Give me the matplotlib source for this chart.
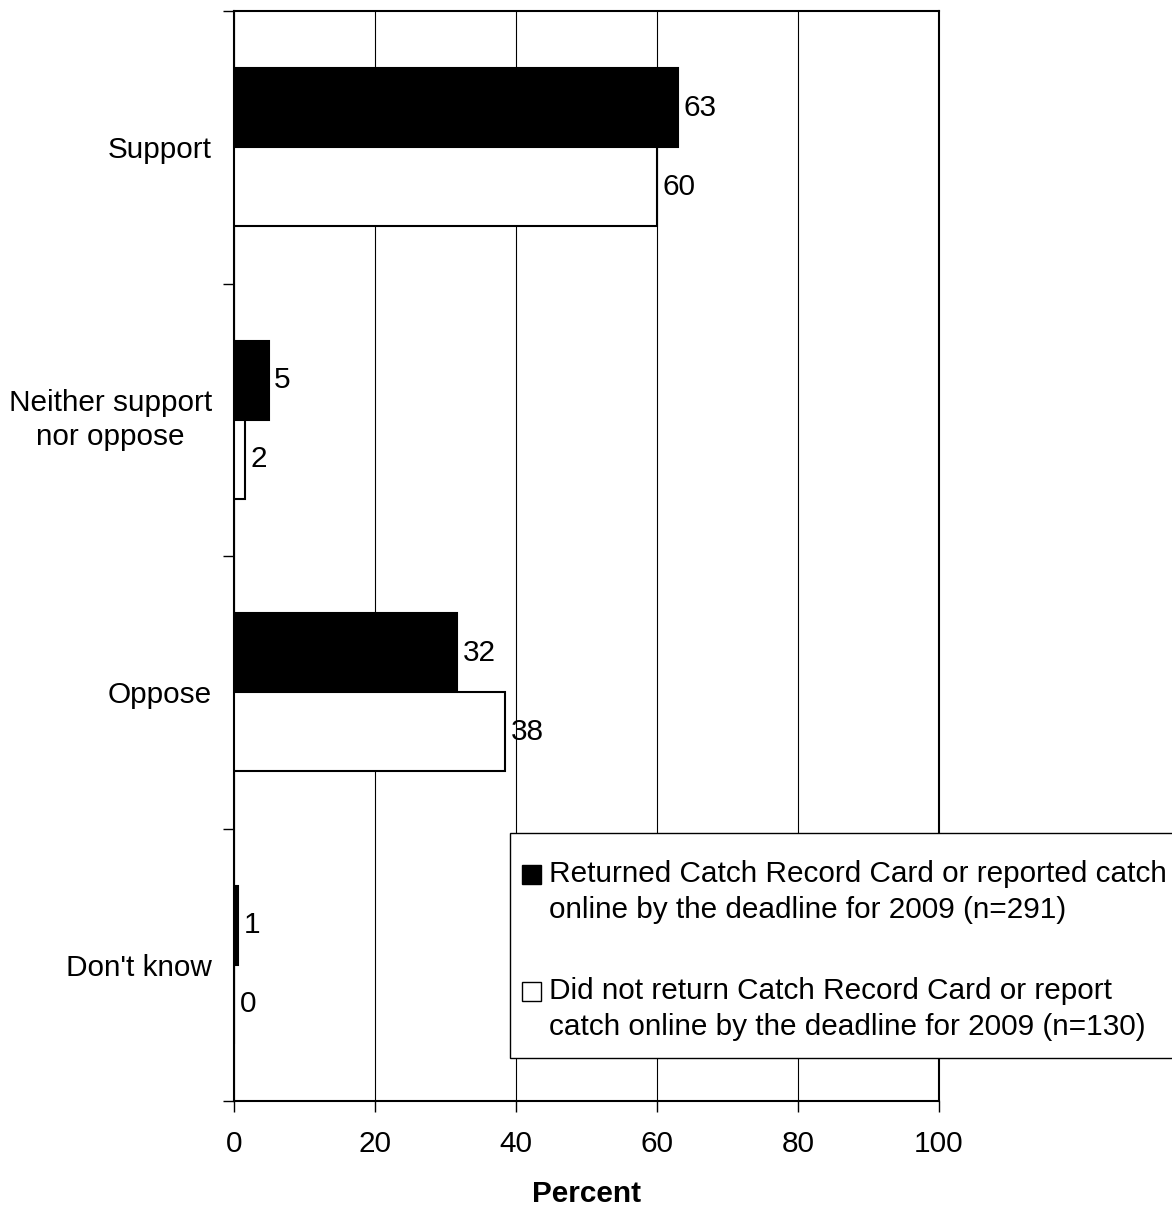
import matplotlib
matplotlib.use("Agg")
import matplotlib.pyplot as plt
from matplotlib.legend_handler import HandlerBase
from matplotlib.patches import Rectangle
import numpy as np

plt.rcParams['font.family'] = ['Liberation Sans', 'DejaVu Sans']

categories = ["Support", "Neither support\nnor oppose", "Oppose", "Don't know"]
returned = [63.0, 4.9, 31.7, 0.6]
not_returned = [60.0, 1.6, 38.5, 0.0]
returned_labels = ["63", "5", "32", "1"]
not_returned_labels = ["60", "2", "38", "0"]
series_names = [
    "Returned Catch Record Card or reported catch\nonline by the deadline for 2009 (n=291)",
    "Did not return Catch Record Card or report\ncatch online by the deadline for 2009 (n=130)",
]
xticks = [0, 20, 40, 60, 80, 100]

fs = 21.4


class TopSquareHandler(HandlerBase):
    """Small square aligned with the first line of a two-line label."""
    def legend_artist(self, legend, orig_handle, fontsize, handlebox):
        above, below = 42.0, 18.7
        handlebox.ydescent = below
        handlebox.height = above + below
        sq = 0.65 * fontsize
        y0 = 20.5 - sq / 2
        rect = Rectangle((0, y0), sq, sq,
                         facecolor=orig_handle.get_facecolor(),
                         edgecolor='black', linewidth=1.0,
                         transform=handlebox.get_transform())
        handlebox.add_artist(rect)
        return rect


fig = plt.figure(figsize=(11.72, 12.09), dpi=100)
ax = fig.add_axes([234/1172, 1 - 1101/1209, (939-234)/1172, (1101-11)/1209])

y = np.arange(len(categories))
h = 0.29
b1 = ax.barh(y - h/2, returned, height=h, color='black', edgecolor='black', linewidth=1.5,
             label=series_names[0], zorder=3)
b2 = ax.barh(y + h/2, not_returned, height=h, color='white', edgecolor='black', linewidth=1.5,
             label=series_names[1], zorder=3)
ax.bar_label(b1, labels=returned_labels, padding=4, fontsize=fs)
ax.bar_label(b2, labels=not_returned_labels, padding=4, fontsize=fs)

ax.set_xlim(0, 100)
ax.set_ylim(len(categories) - 0.5, -0.5)
ax.set_xticks(xticks)
ax.set_xticklabels([str(t) for t in xticks], fontsize=fs)
ax.set_yticks(y)
ax.set_yticklabels(categories, fontsize=fs, ma='center', linespacing=1.28)
for lbl in ax.get_yticklabels():
    if "\n" in lbl.get_text():
        lbl.set_va('center')
ax.set_yticks(np.arange(len(categories) + 1) - 0.5, minor=True)
ax.tick_params(axis='y', which='major', length=0, pad=16)
ax.tick_params(axis='y', which='minor', length=8, width=1, direction='out')
ax.tick_params(axis='x', which='major', length=8, width=1, direction='out', pad=13)
ax.xaxis.grid(True, color='black', linewidth=0.8, zorder=0)
ax.set_axisbelow(True)
for s in ax.spines.values():
    s.set_linewidth(1.5)
    s.set_color('black')
ax.set_xlabel("Percent", fontsize=fs, fontweight='bold', labelpad=16)

handler = TopSquareHandler()
leg = fig.legend(handles=[b1[0], b2[0]], labels=series_names, loc='upper left',
                 bbox_to_anchor=(510/1172, 1 - 833/1209), borderaxespad=0,
                 fontsize=fs, frameon=True, fancybox=False, shadow=False,
                 edgecolor='black', framealpha=1, borderpad=0.4,
                 labelspacing=1.1, handlelength=0.65, handleheight=0.65,
                 handletextpad=0.27,
                 handler_map={b1[0]: handler, b2[0]: handler})
for t in leg.get_texts():
    t.set_linespacing(1.35)
leg.get_frame().set_linewidth(1.0)

fig.savefig("out.png", dpi=100)
